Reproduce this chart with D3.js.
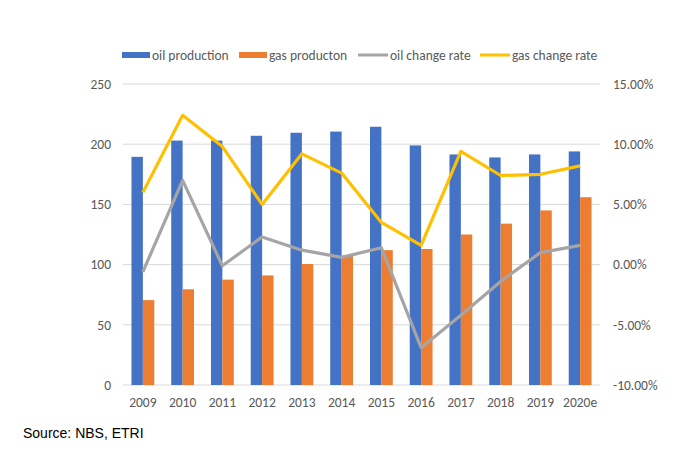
<!DOCTYPE html>
<html><head><meta charset="utf-8">
<script src="https://cdn.jsdelivr.net/npm/d3@7"></script>
<style>body{margin:0;background:#fff;} svg{display:block;}</style>
</head><body>
<svg id="chart" width="690" height="457"></svg>
<script>
const years = ["2009","2010","2011","2012","2013","2014","2015","2016","2017","2018","2019","2020e"];
const oilProduction = [189.5, 203, 203, 207, 209.5, 210.5, 214.5, 199, 191.5, 189, 191.5, 194];
const gasProduction = [70.5, 79.5, 87.5, 91, 100.5, 107.5, 112, 113, 125, 134, 145, 156];
const oilChangeRate = [-0.6, 7.0, -0.1, 2.3, 1.2, 0.6, 1.4, -6.9, -4.2, -1.4, 1.0, 1.6];
const gasChangeRate = [6.0, 12.4, 9.8, 5.0, 9.2, 7.6, 3.5, 1.6, 9.4, 7.4, 7.5, 8.2];
const leftTicks = [0, 50, 100, 150, 200, 250];
const rightTicks = [-10, -5, 0, 5, 10, 15];
const seriesNames = ["oil production", "gas producton", "oil change rate", "gas change rate"];
const colors = ["#4472C4", "#ED7D31", "#A5A5A5", "#FFC000"];

const svg = d3.select("#chart");
const m = {left:123, right:600, top:84, bottom:385};
const font = "Carlito, Lato, 'Open Sans', sans-serif";

const x = d3.scaleBand().domain(years).range([m.left, m.right]).paddingInner(0).paddingOuter(0);
const yL = d3.scaleLinear().domain([0, 250]).range([m.bottom, m.top]);
const yR = d3.scaleLinear().domain([-10, 15]).range([m.bottom, m.top]);
const barW = 11.4;

// gridlines
svg.append("g").selectAll("line").data(leftTicks).join("line")
  .attr("x1", m.left).attr("x2", m.right)
  .attr("y1", d => yL(d)).attr("y2", d => yL(d))
  .attr("stroke", "#d9d9d9").attr("stroke-width", 1);

// left axis
const axL = d3.axisLeft(yL).tickValues(leftTicks).tickSize(0).tickPadding(12);
const gL = svg.append("g").attr("transform", `translate(${m.left},0)`).call(axL);
gL.select(".domain").remove();
gL.selectAll("text").attr("fill", "#595959").style("font-family", font).style("font-size", "13.5px");

// right axis
const axR = d3.axisRight(yR).tickValues(rightTicks).tickSize(0).tickPadding(13)
  .tickFormat(d => d.toFixed(2) + "%");
const gR = svg.append("g").attr("transform", `translate(${m.right},0)`).call(axR);
gR.select(".domain").remove();
gR.selectAll("text").attr("fill", "#595959").style("font-family", font).style("font-size", "13.5px");

// x axis
const axX = d3.axisBottom(x).tickSize(0).tickPadding(12);
const gX = svg.append("g").attr("transform", `translate(0,${m.bottom})`).call(axX);
gX.select(".domain").remove();
gX.selectAll("text").attr("fill", "#595959").style("font-family", font).style("font-size", "13.5px");

// bars
svg.append("g").selectAll("rect").data(years).join("rect")
  .attr("x", (d) => x(d) + x.bandwidth()/2 - barW)
  .attr("width", barW)
  .attr("y", (d,i) => yL(oilProduction[i]))
  .attr("height", (d,i) => yL(0) - yL(oilProduction[i]))
  .attr("fill", colors[0]);
svg.append("g").selectAll("rect").data(years).join("rect")
  .attr("x", (d) => x(d) + x.bandwidth()/2)
  .attr("width", barW)
  .attr("y", (d,i) => yL(gasProduction[i]))
  .attr("height", (d,i) => yL(0) - yL(gasProduction[i]))
  .attr("fill", colors[1]);

// lines
const line = d3.line().x((d,i) => x(years[i]) + x.bandwidth()/2).y(d => yR(d));
svg.append("path").datum(oilChangeRate).attr("d", line)
  .attr("fill", "none").attr("stroke", colors[2]).attr("stroke-width", 3.2).attr("stroke-linejoin", "round");
svg.append("path").datum(gasChangeRate).attr("d", line)
  .attr("fill", "none").attr("stroke", colors[3]).attr("stroke-width", 3.2).attr("stroke-linejoin", "round");

// legend
const legX = [122, 239, 358, 480];
const lg = svg.append("g");
seriesNames.forEach((name, i) => {
  if (i < 2) {
    lg.append("rect").attr("x", legX[i]).attr("y", 52).attr("width", 28).attr("height", 6).attr("fill", colors[i]);
  } else {
    lg.append("line").attr("x1", legX[i]).attr("x2", legX[i] + 30).attr("y1", 55).attr("y2", 55)
      .attr("stroke", colors[i]).attr("stroke-width", 3);
  }
  lg.append("text").attr("x", legX[i] + (i < 2 ? 30 : 32)).attr("y", 55).attr("dy", "0.35em")
    .attr("fill", "#595959").style("font-family", font).style("font-size", "13.5px").text(name);
});

// source
svg.append("text").attr("x", 23).attr("y", 438).attr("fill", "#000")
  .style("font-family", "Arial, 'Liberation Sans', sans-serif").style("font-size", "14px")
  .text("Source: NBS, ETRI");
</script>
</body></html>
